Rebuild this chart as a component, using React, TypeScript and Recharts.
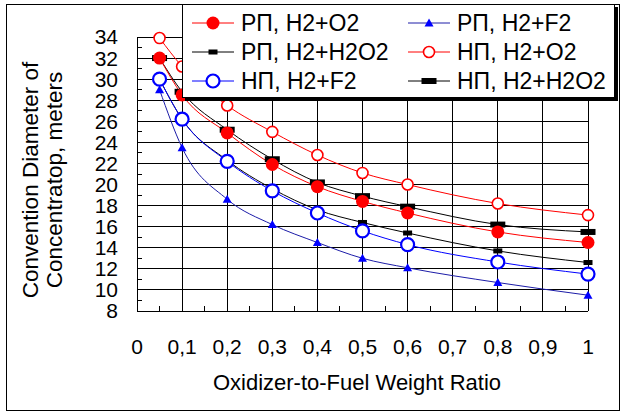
import { LineChart, Line, XAxis, YAxis, ReferenceLine } from "recharts";

const ratios = [0.05, 0.1, 0.2, 0.3, 0.4, 0.5, 0.6, 0.8, 1];
const rpO2 = [32, 28.5, 24.9, 21.9, 19.8, 18.4, 17.3, 15.5, 14.5];
const rpF2 = [29, 23.5, 18.6, 16.2, 14.5, 13.0, 12.1, 10.7, 9.5];
const rpH2O2 = [30, 26.2, 22.3, 19.6, 17.6, 16.4, 15.4, 13.7, 12.6];
const npO2 = [33.9, 31.2, 27.5, 25.0, 22.8, 21.1, 20.0, 18.2, 17.1];
const npF2 = [30, 26.2, 22.2, 19.4, 17.3, 15.6, 14.3, 12.65, 11.5];
const npH2O2 = [32, 28.8, 25.2, 22.4, 20.2, 18.9, 17.9, 16.2, 15.5];

const xTicks = [0, 0.05, 0.1, 0.15, 0.2, 0.25, 0.3, 0.35, 0.4, 0.45, 0.5, 0.55, 0.6, 0.65, 0.7, 0.75, 0.8, 0.85, 0.9, 0.95, 1];
const xGrid = [0, 0.1, 0.2, 0.3, 0.4, 0.5, 0.6, 0.7, 0.8, 0.9, 1];
const yTicks = [8, 9, 10, 11, 12, 13, 14, 15, 16, 17, 18, 19, 20, 21, 22, 23, 24, 25, 26, 27, 28, 29, 30, 31, 32, 33, 34];
const yGrid = [8, 10, 12, 14, 16, 18, 20, 22, 24, 26, 28, 30, 32, 34];

const FONT = '"Liberation Sans", Arial, sans-serif';

type Shape = "disc" | "ring" | "bigRing" | "tri" | "bar" | "bigBar";

interface Series {
  key: string;
  name: string;
  line: string;
  mark: string;
  shape: Shape;
  values: number[];
}

// legend order (row by row, two columns)
const legendOrder: Series[] = [
  { key: "rpO2", name: "РП, H2+O2", line: "#ff0000", mark: "#ff0000", shape: "disc", values: rpO2 },
  { key: "rpF2", name: "РП, H2+F2", line: "#1c1ca8", mark: "#0000ff", shape: "tri", values: rpF2 },
  { key: "rpH2O2", name: "РП, H2+H2O2", line: "#000000", mark: "#000000", shape: "bar", values: rpH2O2 },
  { key: "npO2", name: "НП, H2+O2", line: "#ff0000", mark: "#ff0000", shape: "ring", values: npO2 },
  { key: "npF2", name: "НП, H2+F2", line: "#0000ff", mark: "#0000ff", shape: "bigRing", values: npF2 },
  { key: "npH2O2", name: "НП, H2+H2O2", line: "#000000", mark: "#000000", shape: "bigBar", values: npH2O2 },
];

// drawing order, last on top
const drawOrder = ["npH2O2", "rpH2O2", "rpF2", "npO2", "rpO2", "npF2"].map(
  (k) => legendOrder.find((s) => s.key === k)!
);

const rows = ratios.map((x, i) => {
  const row: Record<string, number> = { x };
  legendOrder.forEach((s) => (row[s.key] = s.values[i]));
  return row;
});

function Marker({ shape, cx, cy, color }: { shape: Shape; cx: number; cy: number; color: string }) {
  switch (shape) {
    case "disc":
      return <circle cx={cx} cy={cy} r={6.5} fill={color} />;
    case "ring":
      return <circle cx={cx} cy={cy} r={5.5} fill="#fff" stroke={color} strokeWidth={1.6} />;
    case "bigRing":
      return <circle cx={cx} cy={cy} r={6.5} fill="#fff" stroke={color} strokeWidth={2.2} />;
    case "tri":
      return <polygon points={`${cx},${cy - 4.5} ${cx + 4.5},${cy + 3.5} ${cx - 4.5},${cy + 3.5}`} fill={color} />;
    case "bar":
      return <rect x={cx - 4.5} y={cy - 2.5} width={9} height={5} fill={color} />;
    case "bigBar":
      return <rect x={cx - 7.5} y={cy - 3} width={15} height={6} fill={color} />;
  }
  return null;
}

const fmtX = (v: number) => {
  const t = Math.round(v * 100);
  if (t % 10 !== 0) return "";
  if (t === 0) return "0";
  if (t === 100) return "1";
  return (t / 100).toFixed(1).replace(".", ",");
};

const fmtY = (v: number) => (v % 2 === 0 ? String(v) : "");

export default function App() {
  return (
    <div style={{ position: "absolute", left: 0, top: 0, width: 622, height: 414, background: "#fff", fontFamily: FONT }}>
      <div style={{ position: "absolute", left: 6, top: 4, width: 614, height: 407, border: "1px solid #000", boxSizing: "border-box" }} />
      <LineChart width={622} height={414} data={rows} margin={{ top: 37, right: 34, bottom: 63, left: 77 }}>
        <XAxis
          dataKey="x"
          type="number"
          domain={[0, 1]}
          ticks={xTicks}
          interval={0}
          tickFormatter={fmtX}
          tickSize={-5}
          tickMargin={33}
          height={40}
          stroke="#000"
          shapeRendering="crispEdges"
          tick={{ fill: "#000", fontSize: 21, fontFamily: FONT }}
        />
        <YAxis
          type="number"
          domain={[8, 34]}
          ticks={yTicks}
          interval={0}
          tickFormatter={fmtY}
          tickSize={-5}
          tickMargin={24}
          width={60}
          stroke="#000"
          shapeRendering="crispEdges"
          tick={{ fill: "#000", fontSize: 21, fontFamily: FONT }}
        />
        {xGrid.map((v) => (
          <ReferenceLine key={`gx${v}`} x={v} stroke="#000" strokeWidth={1} shapeRendering="crispEdges" />
        ))}
        {yGrid.map((v) => (
          <ReferenceLine key={`gy${v}`} y={v} stroke="#000" strokeWidth={1} shapeRendering="crispEdges" />
        ))}
        {drawOrder.map((s) => (
          <Line
            key={s.key}
            dataKey={s.key}
            type="monotone"
            stroke={s.line}
            strokeWidth={1}
            isAnimationActive={false}
            dot={(p: any) => <Marker key={`${s.key}-${p.index}`} shape={s.shape} cx={p.cx} cy={p.cy} color={s.mark} />}
          />
        ))}
      </LineChart>

      <svg width={622} height={414} style={{ position: "absolute", left: 0, top: 0, pointerEvents: "none" }}>
        <text x={357} y={390} textAnchor="middle" fontSize={22} fontFamily={FONT} fill="#000">
          Oxidizer-to-Fuel Weight Ratio
        </text>
        <text transform="translate(38,180) rotate(-90)" textAnchor="middle" fontSize={22.5} fontFamily={FONT} fill="#000">
          Convention Diameter of
        </text>
        <text transform="translate(62,180) rotate(-90)" textAnchor="middle" fontSize={22.5} fontFamily={FONT} fill="#000">
          Concentratop, meters
        </text>
      </svg>

      <div
        style={{
          position: "absolute",
          left: 182,
          top: 4,
          width: 433,
          height: 94,
          border: "1px solid #000",
          boxSizing: "border-box",
          background: "#fff",
          boxShadow: "3px 3px 0 #000",
        }}
      >
        {legendOrder.map((s, i) => (
          <div
            key={s.key}
            style={{
              position: "absolute",
              left: i % 2 === 0 ? 9 : 225,
              top: 18 + Math.floor(i / 2) * 29 - 13,
              height: 26,
              display: "flex",
              alignItems: "center",
              whiteSpace: "nowrap",
            }}
          >
            <svg width={42} height={20}>
              <line x1={0} y1={10} x2={42} y2={10} stroke={s.line} strokeWidth={1} />
              <Marker shape={s.shape} cx={21} cy={10} color={s.mark} />
            </svg>
            <span style={{ marginLeft: 7, fontSize: 23, color: "#000" }}>{s.name}</span>
          </div>
        ))}
      </div>
    </div>
  );
}
